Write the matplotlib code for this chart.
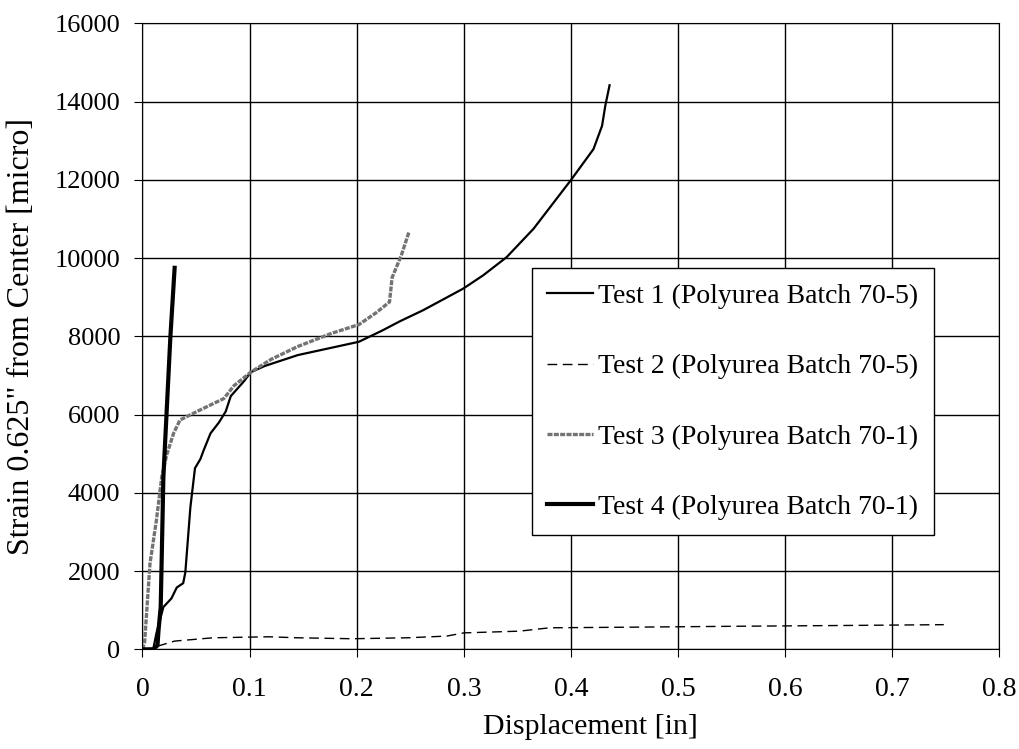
import matplotlib
matplotlib.use('Agg')
import matplotlib.pyplot as plt

plt.rcParams['font.family'] = ['Liberation Serif', 'DejaVu Serif']

# Test 1 (Polyurea Batch 70-5)
t1_x = [0.0, 0.010, 0.013, 0.0195, 0.027, 0.032, 0.038, 0.040, 0.0447, 0.049, 0.054, 0.057,
        0.0635, 0.0714, 0.0777, 0.0824, 0.095, 0.101, 0.114, 0.145, 0.202, 0.224, 0.240,
        0.262, 0.2994, 0.318, 0.340, 0.365, 0.400, 0.421, 0.429, 0.432, 0.436]
t1_y = [0, 0, 410, 1080, 1300, 1580, 1690, 1970, 3630, 4630, 4860, 5080,
        5520, 5800, 6080, 6470, 6860, 7080, 7240, 7520, 7860, 8150, 8380,
        8667, 9219, 9558, 10025, 10747, 11996, 12785, 13380, 13890, 14416]

# Test 2 (Polyurea Batch 70-5)
t2_x = [0.0, 0.008, 0.0145, 0.030, 0.066, 0.118, 0.144, 0.196, 0.248, 0.284, 0.300,
        0.352, 0.380, 0.453, 0.559, 0.660, 0.748]
t2_y = [0, 20, 84, 210, 295, 320, 295, 270, 295, 338, 420,
        464, 550, 565, 590, 610, 630]

# Test 3 (Polyurea Batch 70-1)
t3_x = [0.0, 0.002, 0.007, 0.013, 0.018, 0.0226, 0.029, 0.035, 0.051, 0.076, 0.0855,
        0.101, 0.120, 0.145, 0.177, 0.202, 0.218, 0.2306, 0.233, 0.2416, 0.2487]
t3_y = [0, 190, 2190, 3300, 4410, 4970, 5520, 5860, 6080, 6410, 6740,
        7080, 7410, 7740, 8080, 8300, 8600, 8879, 9500, 10068, 10662]

# Test 4 (Polyurea Batch 70-1)
t4_x = [0.0, 0.010, 0.014, 0.015, 0.017, 0.0195, 0.026, 0.030]
t4_y = [0, 0, 100, 500, 1080, 4400, 7970, 9750]

labels = ['Test 1 (Polyurea Batch 70-5)', 'Test 2 (Polyurea Batch 70-5)',
          'Test 3 (Polyurea Batch 70-1)', 'Test 4 (Polyurea Batch 70-1)']

fig = plt.figure(figsize=(10.2, 7.49), dpi=100)
ax = fig.add_axes([0.1397, 0.1331, 0.8402, 0.8358])

ax.plot(t1_x, t1_y, color='black', lw=1.6, label=labels[0])
ax.plot(t2_x, t2_y, color='black', lw=1.0, ls=(0, (7, 4)), label=labels[1])
ax.plot(t3_x, t3_y, color='0.45', lw=2.4, ls=(0, (1.5, 0.4)), label=labels[2])
ax.plot(t4_x, t4_y, color='black', lw=3.0, label=labels[3])

ax.set_xlim(0, 0.8)
ax.set_ylim(0, 16000)
ax.set_xticks([0, 0.1, 0.2, 0.3, 0.4, 0.5, 0.6, 0.7, 0.8])
ax.set_xticklabels(['0', '0.1', '0.2', '0.3', '0.4', '0.5', '0.6', '0.7', '0.8'])
ax.set_yticks(range(0, 16001, 2000))
ax.grid(True, color='black', lw=1.0)
ax.tick_params(direction='out', length=6, color='black')
ax.tick_params(axis='x', labelsize=20, pad=14)
ax.tick_params(axis='y', labelsize=19, pad=10)
for s in ax.spines.values():
    s.set_color('black')

ax.set_xlabel('Displacement [in]', fontsize=21.5)
ax.xaxis.set_label_coords(0.523, -0.103)
ax.set_ylabel('Strain 0.625" from Center [micro]', fontsize=23)
ax.yaxis.set_label_coords(-0.124, 0.5)

leg = ax.legend(loc='upper left', bbox_to_anchor=(0.454, 0.609), fontsize=20,
                frameon=True, fancybox=False, framealpha=1, edgecolor='black',
                handlelength=1.65, handletextpad=0.2, labelspacing=1.62,
                borderpad=0.55, borderaxespad=0)
leg.get_frame().set_linewidth(1.0)

plt.savefig('out.png', dpi=100)
